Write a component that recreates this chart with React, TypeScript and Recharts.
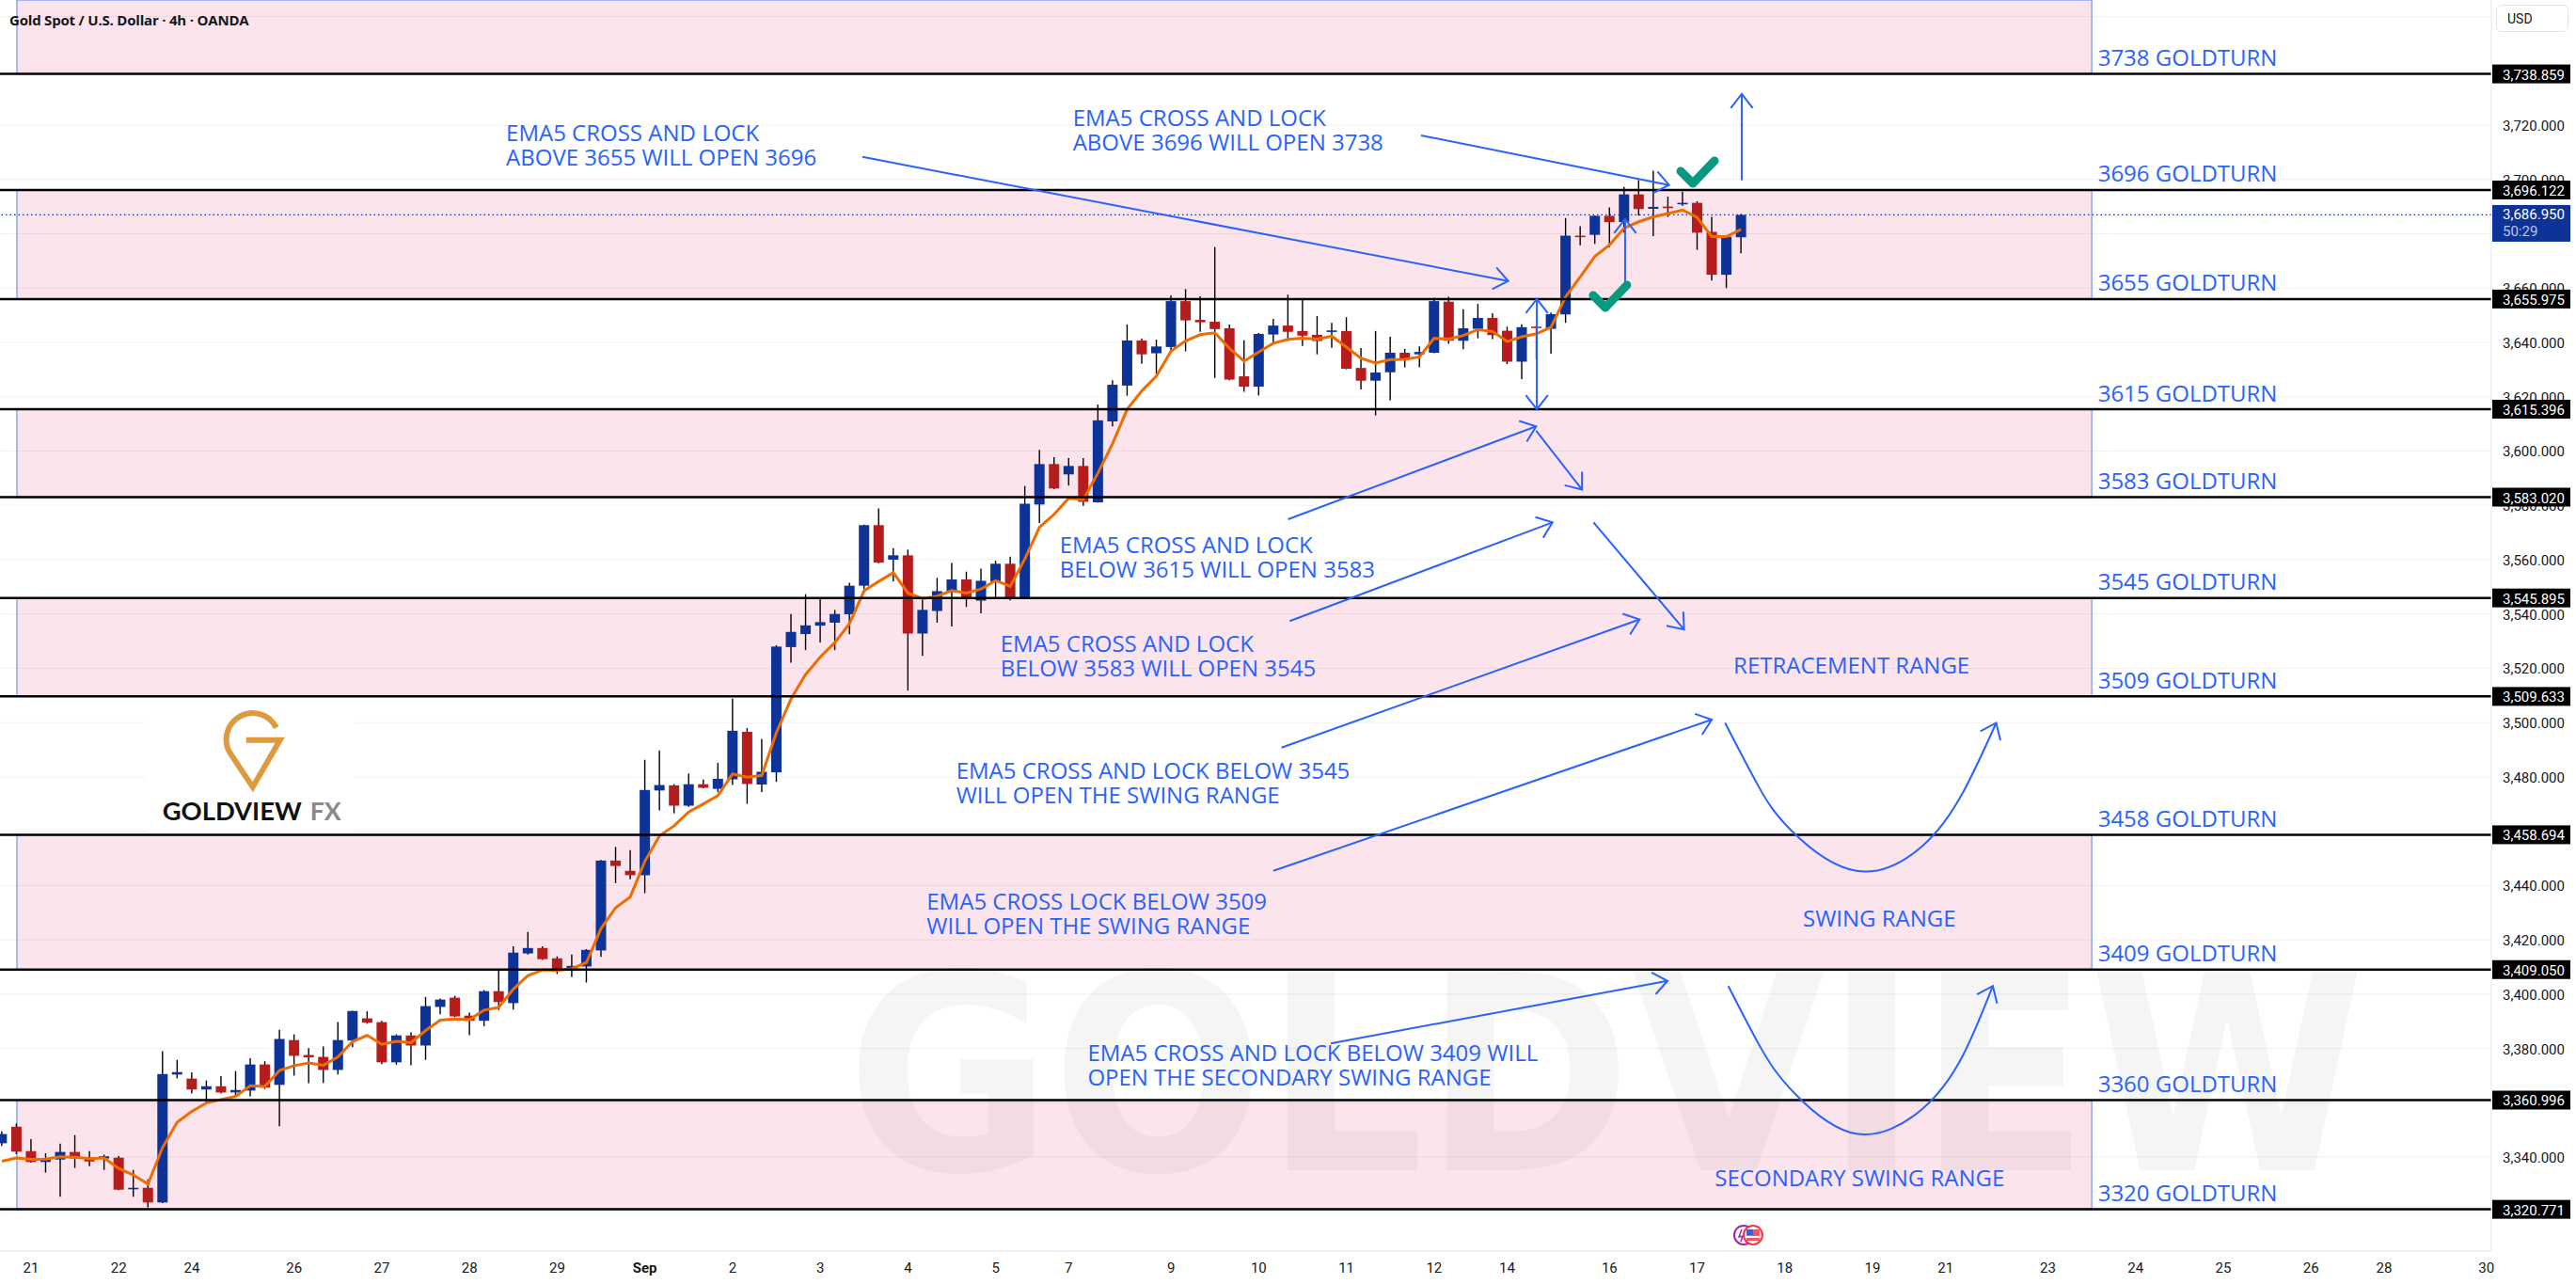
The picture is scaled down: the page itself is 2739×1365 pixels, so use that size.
import React from 'react';
import {
  ComposedChart,
  XAxis,
  YAxis,
  Bar,
  Line,
  ReferenceLine,
  ReferenceArea,
  ReferenceDot,
} from 'recharts';

// ---------- 4h XAUUSD candles (consecutive bar index, first bar = firstBar) ----------
const firstBar = -2;
const opens = [
  3345.1, 3351.2, 3342.2, 3338.2, 3339.1, 3341.9, 3339.9, 3339.5, 3339.8, 3328.2,
  3328.7, 3323.3, 3370.4, 3368.9, 3364.9, 3366.1, 3363.8, 3364.5, 3374.1, 3366.6,
  3383.1, 3377.6, 3376.9, 3372.1, 3382.9, 3391.1, 3389.7, 3374.9, 3384.8, 3381.1,
  3395.3, 3398.7, 3392.1, 3390.2, 3401.1, 3396.7, 3415.0, 3417.0, 3413.2, 3408.6,
  3410.2, 3416.1, 3449.2, 3445.4, 3443.8, 3475.0, 3476.9, 3469.4, 3477.3, 3475.6,
  3479.1, 3496.6, 3477.2, 3481.7, 3527.8, 3532.6, 3535.7, 3536.8, 3539.9, 3550.4,
  3572.7, 3560.0, 3561.6, 3532.8, 3541.1, 3548.1, 3552.7, 3544.9, 3551.9, 3558.5,
  3545.8, 3580.3, 3595.2, 3591.4, 3594.5, 3581.1, 3610.9, 3624.1, 3640.7, 3636.0,
  3638.3, 3655.2, 3648.3, 3647.6, 3645.2, 3627.5, 3623.7, 3642.9, 3646.2, 3644.2,
  3642.8, 3643.9, 3644.2, 3630.6, 3625.9, 3629.0, 3636.2, 3635.6, 3636.2, 3655.0,
  3640.6, 3645.0, 3649.0, 3644.3, 3632.9, 3645.8, 3645.0, 3650.3, 3679.3, 3679.6,
  3686.6, 3684.3, 3694.5, 3689.2, 3690.0, 3691.2, 3691.4, 3680.7, 3664.9, 3678.7,
];
const highs = [
  3349.5, 3352.4, 3346.6, 3341.4, 3345.0, 3348.1, 3342.2, 3340.9, 3340.4, 3335.3,
  3331.8, 3379.0, 3375.8, 3371.2, 3368.2, 3369.8, 3371.7, 3376.4, 3375.3, 3386.9,
  3385.2, 3380.1, 3380.7, 3389.7, 3393.9, 3393.7, 3390.2, 3385.2, 3385.9, 3399.0,
  3398.4, 3399.4, 3393.2, 3401.5, 3409.0, 3417.6, 3422.9, 3417.6, 3413.9, 3414.6,
  3416.6, 3449.4, 3454.2, 3453.0, 3486.3, 3489.8, 3477.3, 3481.3, 3479.0, 3485.2,
  3508.8, 3498.0, 3494.0, 3528.5, 3540.0, 3547.3, 3545.8, 3541.5, 3551.5, 3572.9,
  3578.9, 3564.2, 3563.7, 3545.8, 3553.3, 3558.8, 3555.6, 3556.7, 3559.6, 3561.1,
  3587.1, 3600.4, 3597.7, 3597.4, 3597.4, 3617.1, 3626.1, 3646.6, 3641.4, 3641.0,
  3657.3, 3659.6, 3657.0, 3675.1, 3646.6, 3640.8, 3643.5, 3648.7, 3657.6, 3655.6,
  3649.7, 3647.2, 3649.3, 3637.9, 3644.2, 3642.1, 3637.6, 3638.5, 3656.4, 3656.8,
  3652.2, 3654.2, 3650.7, 3645.8, 3646.7, 3646.2, 3651.0, 3685.8, 3682.8, 3686.8,
  3689.7, 3697.2, 3699.8, 3703.2, 3693.7, 3695.5, 3692.0, 3686.2, 3679.5, 3687.3,
];
const lows = [
  3344.1, 3341.1, 3338.0, 3334.3, 3325.4, 3336.0, 3336.7, 3335.3, 3327.8, 3325.4,
  3321.5, 3323.1, 3369.0, 3363.4, 3359.9, 3363.4, 3362.2, 3362.4, 3365.1, 3351.4,
  3370.0, 3367.2, 3367.3, 3370.4, 3380.5, 3389.1, 3374.2, 3374.0, 3373.8, 3375.8,
  3392.6, 3391.5, 3384.9, 3388.2, 3394.2, 3394.3, 3414.6, 3412.6, 3407.4, 3406.3,
  3404.3, 3413.7, 3440.9, 3442.3, 3437.2, 3467.7, 3466.6, 3469.0, 3475.8, 3474.4,
  3477.0, 3470.1, 3474.4, 3478.2, 3522.1, 3526.7, 3529.5, 3526.7, 3532.5, 3549.2,
  3558.7, 3552.0, 3511.8, 3524.6, 3536.8, 3535.4, 3542.6, 3540.2, 3546.2, 3545.0,
  3545.6, 3573.5, 3586.0, 3587.3, 3579.8, 3581.0, 3609.1, 3620.4, 3632.1, 3628.4,
  3636.4, 3636.7, 3643.9, 3626.9, 3626.1, 3621.8, 3620.4, 3640.0, 3640.5, 3638.7,
  3635.6, 3638.0, 3630.1, 3622.7, 3613.1, 3618.6, 3630.8, 3630.8, 3636.0, 3639.5,
  3637.5, 3641.5, 3641.2, 3632.0, 3626.5, 3633.7, 3635.8, 3647.2, 3675.8, 3676.3,
  3675.1, 3680.4, 3686.7, 3679.1, 3686.2, 3690.3, 3674.1, 3662.8, 3660.0, 3672.8,
];
const closes = [
  3348.5, 3342.0, 3338.2, 3339.5, 3341.9, 3339.5, 3338.4, 3340.3, 3328.0, 3328.7,
  3323.3, 3370.6, 3371.3, 3364.9, 3366.1, 3363.8, 3364.7, 3374.1, 3365.6, 3383.5,
  3377.3, 3376.7, 3372.1, 3383.1, 3393.8, 3389.5, 3374.9, 3384.8, 3381.1, 3395.6,
  3398.0, 3391.8, 3390.2, 3401.1, 3397.1, 3415.3, 3417.0, 3412.9, 3408.6, 3410.4,
  3416.3, 3449.2, 3447.2, 3443.8, 3475.2, 3477.0, 3469.4, 3477.3, 3476.0, 3479.3,
  3497.0, 3477.4, 3481.9, 3528.0, 3533.4, 3535.8, 3537.0, 3540.0, 3550.4, 3572.7,
  3558.9, 3561.6, 3532.8, 3541.5, 3548.4, 3552.7, 3545.8, 3552.2, 3558.5, 3545.8,
  3580.6, 3595.2, 3586.2, 3594.5, 3581.3, 3611.3, 3624.4, 3640.7, 3635.6, 3638.5,
  3655.2, 3648.1, 3647.4, 3644.9, 3626.3, 3623.7, 3643.1, 3646.2, 3643.9, 3642.5,
  3640.5, 3644.4, 3630.3, 3625.9, 3628.9, 3636.2, 3633.9, 3636.5, 3655.2, 3640.6,
  3645.2, 3649.0, 3642.7, 3632.9, 3645.6, 3645.4, 3650.4, 3679.3, 3678.8, 3686.6,
  3684.3, 3694.5, 3689.1, 3689.9, 3689.8, 3691.4, 3680.4, 3664.9, 3678.9, 3686.95,
];

// EMA(5) of the close, starting from the value already running on the first bar
const emaPeriod = 5;
const emaStart = 3338.5;

// ---------- GOLDTURN levels and zones ----------
const levelPrices = [
  3738.859, 3696.122, 3655.975, 3615.396, 3583.02, 3545.895,
  3509.633, 3458.694, 3409.05, 3360.996, 3320.771,
];
const levelTags = [
  '3738 GOLDTURN', '3696 GOLDTURN', '3655 GOLDTURN', '3615 GOLDTURN', '3583 GOLDTURN', '3545 GOLDTURN',
  '3509 GOLDTURN', '3458 GOLDTURN', '3409 GOLDTURN', '3360 GOLDTURN', '3320 GOLDTURN',
];
const zoneLows = [3738.859, 3655.975, 3583.02, 3509.633, 3409.05, 3320.771];
const zoneHighs = [3766.08, 3696.122, 3615.396, 3545.895, 3458.694, 3360.996];

// ---------- axes ----------
const dayTickBars = [0, 6, 11, 18, 24, 30, 36, 42, 48, 54, 60, 66, 71, 78, 84, 90, 96, 101, 108, 114, 120, 126, 131, 138, 144, 150, 156, 161, 168];
const dayTickLabels = ['21', '22', '24', '26', '27', '28', '29', 'Sep', '2', '3', '4', '5', '7', '9', '10', '11', '12', '14', '16', '17', '18', '19', '21', '23', '24', '25', '26', '28', '30'];
const priceTicks = [3340, 3360, 3380, 3400, 3420, 3440, 3460, 3480, 3500, 3520, 3540, 3560, 3580, 3600, 3620, 3640, 3660, 3680, 3700, 3720];
const gridPrices = [3320, 3340, 3360, 3380, 3400, 3420, 3440, 3460, 3480, 3500, 3520, 3540, 3560, 3580, 3600, 3620, 3640, 3660, 3680, 3700, 3720, 3740, 3760];
const lastPrice = 3686.95;
const countdown = '50:29';

// ---------- drawings (bar index, price) ----------
type Seg = { a: [number, number]; b: [number, number]; mode: 'end' | 'both' | 'head' };
const arrowSegs: Seg[] = [
  { a: [56.89, 3708.3], b: [101.07, 3662.6], mode: 'end' },
  { a: [95.11, 3716.2], b: [112.08, 3697.95], mode: 'end' },
  { a: [103.03, 3656.0], b: [103.03, 3615.4], mode: 'both' },
  { a: [109.07, 3662.2], b: [109.07, 3685.4], mode: 'end' },
  { a: [117.05, 3699.7], b: [117.05, 3731.5], mode: 'end' },
  { a: [86.01, 3574.9], b: [102.98, 3609.1], mode: 'end' },
  { a: [102.98, 3607.5], b: [106.12, 3585.8], mode: 'end' },
  { a: [86.12, 3537.4], b: [104.1, 3573.7], mode: 'end' },
  { a: [106.91, 3573.7], b: [113.1, 3534.3], mode: 'end' },
  { a: [85.56, 3490.8], b: [110.06, 3537.98], mode: 'end' },
  { a: [85.0, 3445.4], b: [115.0, 3501.1], mode: 'end' },
  { a: [88.93, 3381.9], b: [111.97, 3404.9], mode: 'end' },
  { a: [133.44, 3487.75], b: [134.46, 3499.9], mode: 'head' },
  { a: [133.22, 3390.9], b: [134.23, 3403.0], mode: 'head' },
];
const swingCurve = [
  { k: 115.91, v: 3499.9 }, { k: 118.16, v: 3476.9 }, { k: 120.4, v: 3460.5 }, { k: 124.9, v: 3445.4 },
  { k: 129.4, v: 3454.5 }, { k: 132.2, v: 3474.4 }, { k: 134.46, v: 3499.9 },
];
const secondaryCurve = [
  { k: 116.13, v: 3403.0 }, { k: 118.38, v: 3380.0 }, { k: 120.63, v: 3363.7 }, { k: 124.9, v: 3348.6 },
  { k: 129.4, v: 3357.7 }, { k: 132.2, v: 3377.6 }, { k: 134.23, v: 3403.0 },
];
type Note = { at: [number, number]; lines: string[]; align: 'start' | 'middle' };
const notes: Note[] = [
  { at: [32.5, 3717.7], lines: ['EMA5 CROSS AND LOCK', 'ABOVE 3655 WILL OPEN 3696'], align: 'start' },
  { at: [71.28, 3723.1], lines: ['EMA5 CROSS AND LOCK', 'ABOVE 3696 WILL OPEN 3738'], align: 'start' },
  { at: [70.38, 3565.8], lines: ['EMA5 CROSS AND LOCK', 'BELOW 3615 WILL OPEN 3583'], align: 'start' },
  { at: [66.33, 3529.5], lines: ['EMA5 CROSS AND LOCK', 'BELOW 3583 WILL OPEN 3545'], align: 'start' },
  { at: [63.3, 3482.9], lines: ['EMA5 CROSS AND LOCK BELOW 3545', 'WILL OPEN THE SWING RANGE'], align: 'start' },
  { at: [61.28, 3434.5], lines: ['EMA5 CROSS LOCK BELOW 3509', 'WILL OPEN THE SWING RANGE'], align: 'start' },
  { at: [72.29, 3378.8], lines: ['EMA5 CROSS AND LOCK BELOW 3409 WILL', 'OPEN THE SECONDARY SWING RANGE'], align: 'start' },
  { at: [124.56, 3521.6], lines: ['RETRACEMENT RANGE'], align: 'middle' },
  { at: [126.47, 3428.5], lines: ['SWING RANGE'], align: 'middle' },
  { at: [125.12, 3332.9], lines: ['SECONDARY SWING RANGE'], align: 'middle' },
];
const checkMarks: [number, number][] = [
  [114.03, 3702.7],
  [108.04, 3656.97],
];

// ---------- look ----------
const W = 2739;
const H = 1365;
const X_DOMAIN: [number, number] = [-2.1236, 168.34];
const Y_DOMAIN: [number, number] = [3305.4, 3766.08];
const ZONE_X: [number, number] = [-0.965, 141.0];
const TAG_X = 141.42;
const BODY_W = 11;
const UP = '#0d3399';
const DOWN = '#b71c1c';
const NOTE_BLUE = '#2962ff';
const EMA_COLOR = '#ef6c00';
const AXIS_FONT = "Roboto, 'Noto Sans', sans-serif";
const NOTE_FONT = "'Open Sans', 'Noto Sans', sans-serif";

const fmt = (p: number) =>
  p.toLocaleString('en-US', { minimumFractionDigits: 3, maximumFractionDigits: 3 });

const emaValues: number[] = [];
closes.forEach((c, i) => {
  if (i === 0) emaValues.push(emaStart);
  else emaValues.push(emaValues[i - 1] + (c - emaValues[i - 1]) * (2 / (emaPeriod + 1)));
});

const bars = opens.map((o, i) => ({
  k: firstBar + i,
  o,
  h: highs[i],
  l: lows[i],
  c: closes[i],
  ema: emaValues[i],
}));

// wick spans the ranged bar (low..high); body is placed inside it from open/close
const Candle = (props: any) => {
  const { x, y, width, height, payload } = props;
  if (!payload || x == null) return null;
  const { o, h, l, c } = payload;
  const top = Math.min(y, y + height);
  const span = Math.abs(height);
  const ppu = span / (h - l || 1);
  const cx = x + width / 2;
  const bTop = top + (h - Math.max(o, c)) * ppu;
  const bBot = top + (h - Math.min(o, c)) * ppu;
  return (
    <g>
      <line x1={cx} x2={cx} y1={top} y2={top + span} stroke="#000" strokeWidth={1.4} />
      <rect
        x={cx - BODY_W / 2}
        y={bTop}
        width={BODY_W}
        height={Math.max(bBot - bTop, 1.6)}
        fill={c >= o ? UP : DOWN}
      />
    </g>
  );
};

const HEAD = 19;
const HEAD_ANGLE = (38 * Math.PI) / 180;
const headPath = (tx: number, ty: number, fx: number, fy: number) => {
  const a = Math.atan2(ty - fy, tx - fx);
  const ax = tx - HEAD * Math.cos(a - HEAD_ANGLE);
  const ay = ty - HEAD * Math.sin(a - HEAD_ANGLE);
  const bx = tx - HEAD * Math.cos(a + HEAD_ANGLE);
  const by = ty - HEAD * Math.sin(a + HEAD_ANGLE);
  return `M${ax},${ay} L${tx},${ty} L${bx},${by}`;
};
const arrowShape = (mode: Seg['mode']) => (p: any) => (
  <g fill="none" stroke={NOTE_BLUE} strokeWidth={2}>
    {mode !== 'head' && <line x1={p.x1} y1={p.y1} x2={p.x2} y2={p.y2} />}
    <path d={headPath(p.x2, p.y2, p.x1, p.y1)} />
    {mode === 'both' && <path d={headPath(p.x1, p.y1, p.x2, p.y2)} />}
  </g>
);

const noteShape = (n: Note) => (p: any) => (
  <text
    x={p.cx}
    y={p.cy}
    fill={NOTE_BLUE}
    fontSize={24}
    fontWeight={500}
    fontFamily={NOTE_FONT}
    textAnchor={n.align}
    dominantBaseline="central"
  >
    {n.lines.map((t, i) => (
      <tspan key={i} x={p.cx} dy={i === 0 ? 0 : 26}>
        {t}
      </tspan>
    ))}
  </text>
);

const tagShape = (label: string) => (p: any) => (
  <text
    x={p.cx}
    y={p.cy - 18}
    fill={NOTE_BLUE}
    fontSize={24}
    fontWeight={500}
    fontFamily={NOTE_FONT}
    dominantBaseline="central"
  >
    {label}
  </text>
);

const priceBox = (price: number) => (p: any) => (
  <g>
    <rect x={p.cx + 1} y={p.cy - 10} width={83} height={20} fill="#000" />
    <text x={p.cx + 12} y={p.cy + 1} fill="#fff" fontSize={15} fontFamily={AXIS_FONT} dominantBaseline="central">
      {fmt(price)}
    </text>
  </g>
);

const lastPriceBox = (p: any) => (
  <g>
    <rect x={p.cx + 1} y={p.cy - 10.5} width={83} height={39} fill={UP} />
    <text x={p.cx + 12} y={p.cy} fill="#fff" fontSize={15} fontFamily={AXIS_FONT} dominantBaseline="central">
      {fmt(lastPrice)}
    </text>
    <text x={p.cx + 12} y={p.cy + 18} fill="#b8c4ee" fontSize={15} fontFamily={AXIS_FONT} dominantBaseline="central">
      {countdown}
    </text>
  </g>
);

const checkShape = (p: any) => (
  <path
    d={`M${p.cx - 18},${p.cy - 1} L${p.cx - 5},${p.cy + 12} L${p.cx + 18},${p.cy - 12}`}
    fill="none"
    stroke="#089981"
    strokeWidth={9}
    strokeLinecap="round"
    strokeLinejoin="round"
  />
);

const watermarkShape = (p: any) => (
  <text
    x={p.cx}
    y={p.cy}
    textAnchor="middle"
    fontSize={290}
    fontWeight={700}
    fontFamily="'DejaVu Sans', sans-serif"
    fill="#000"
    fillOpacity={0.04}
    textLength={1615}
    lengthAdjust="spacingAndGlyphs"
  >
    GOLDVIEW
  </text>
);

const logoShape = (p: any) => {
  const { cx, cy } = p;
  return (
    <g>
      <rect x={cx - 114} y={cy - 45} width={223} height={144} fill="#fff" />
      <path
        d={`M${cx + 25},${cy - 13} A28 28 0 1 0 ${cx - 24},${cy + 14} L${cx},${cy + 50} L${cx + 29},${cy} L${cx - 7},${cy}`}
        fill="none"
        stroke="#de9a3e"
        strokeWidth={6}
        strokeLinejoin="miter"
      />
      <text x={cx - 96} y={cy + 85} fontSize={27} fontWeight={700} fontFamily="Lato, 'Open Sans', sans-serif" fill="#111" textLength={148} lengthAdjust="spacingAndGlyphs">
        GOLDVIEW
      </text>
      <text x={cx + 61} y={cy + 85} fontSize={27} fontWeight={700} fontFamily="Lato, 'Open Sans', sans-serif" fill="#8a8a8a" textLength={33} lengthAdjust="spacingAndGlyphs">
        FX
      </text>
    </g>
  );
};

const eventShape = (p: any) => {
  const { cx, cy } = p;
  return (
    <g>
      <circle cx={cx - 5} cy={cy} r={10} fill="#fff" stroke="#9c27b0" strokeWidth={2} />
      <path d={`M${cx - 7},${cy - 6} L${cx - 10},${cy + 2} L${cx - 6},${cy + 1} L${cx - 8},${cy + 7}`} fill="none" stroke="#9c27b0" strokeWidth={1.5} />
      <circle cx={cx + 5} cy={cy} r={10} fill="#fff" stroke="#f23645" strokeWidth={2} />
      <rect x={cx - 2} y={cy - 6} width={14} height={12} fill="#f23645" opacity={0.85} />
      <rect x={cx - 2} y={cy - 6} width={7} height={6} fill="#2962ff" />
      <rect x={cx - 2} y={cy + 1} width={14} height={2} fill="#fff" />
    </g>
  );
};

const DayTick = (props: any) => {
  const { x, y, payload } = props;
  const idx = dayTickBars.indexOf(payload.value);
  const label = idx >= 0 ? dayTickLabels[idx] : '';
  return (
    <text
      x={x}
      y={y + 10}
      textAnchor="middle"
      dominantBaseline="central"
      fontSize={15}
      fontFamily={AXIS_FONT}
      fontWeight={label === 'Sep' ? 700 : 400}
      fill="#131722"
    >
      {label}
    </text>
  );
};

const PriceTick = (props: any) => {
  const { x, y, payload } = props;
  return (
    <text x={x + 4} y={y + 1} dominantBaseline="central" fontSize={15} fontFamily={AXIS_FONT} fill="#131722">
      {fmt(payload.value)}
    </text>
  );
};

export default function App() {
  return (
    <div style={{ position: 'absolute', left: 0, top: 0, width: W, height: H, background: '#fff', overflow: 'hidden' }}>
      <ComposedChart width={W} height={H} data={bars} margin={{ top: 0, right: 0, bottom: 0, left: 0 }}>
        <XAxis
          dataKey="k"
          type="number"
          domain={X_DOMAIN}
          allowDataOverflow
          ticks={dayTickBars}
          interval={0}
          tick={<DayTick />}
          tickLine={false}
          axisLine={{ stroke: '#e0e3eb' }}
          height={35}
        />
        <YAxis
          orientation="right"
          type="number"
          domain={Y_DOMAIN}
          allowDataOverflow
          ticks={priceTicks}
          interval={0}
          tick={<PriceTick />}
          tickLine={false}
          axisLine={{ stroke: '#e0e3eb' }}
          width={90}
        />

        {zoneLows.map((lo, i) => (
          <ReferenceArea
            key={`zone-${i}`}
            x1={ZONE_X[0]}
            x2={ZONE_X[1]}
            y1={lo}
            y2={zoneHighs[i]}
            fill="#fce4ec"
            fillOpacity={1}
            stroke="#8aa8f8"
            strokeWidth={1.5}
            ifOverflow="hidden"
            zIndex={50}
          />
        ))}

        <ReferenceDot x={107.75} y={3335.19} ifOverflow="visible" shape={watermarkShape} zIndex={60} />

        {gridPrices.map((g) => (
          <ReferenceLine key={`grid-${g}`} y={g} stroke="#000" strokeOpacity={0.06} strokeWidth={1} ifOverflow="hidden" zIndex={70} />
        ))}

        <ReferenceDot x={15.17} y={3493.59} ifOverflow="visible" shape={logoShape} zIndex={80} />

        <ReferenceLine y={lastPrice} stroke={UP} strokeDasharray="1.5 3" strokeWidth={1.3} zIndex={90} />

        <Bar
          dataKey={(d: any) => [d.l, d.h]}
          barSize={BODY_W}
          shape={Candle}
          isAnimationActive={false}
          zIndex={300}
        />
        <Line
          dataKey="ema"
          type="linear"
          stroke={EMA_COLOR}
          strokeWidth={3}
          dot={false}
          activeDot={false}
          isAnimationActive={false}
          zIndex={400}
        />

        {levelPrices.map((lv) => (
          <ReferenceLine key={`lv-${lv}`} y={lv} stroke="#000" strokeWidth={2.5} zIndex={450} />
        ))}

        {levelPrices.map((lv, i) => (
          <ReferenceDot key={`tag-${lv}`} x={TAG_X} y={lv} ifOverflow="visible" shape={tagShape(levelTags[i])} zIndex={460} />
        ))}

        <Line data={swingCurve} dataKey="v" type="natural" stroke={NOTE_BLUE} strokeWidth={2} dot={false} activeDot={false} isAnimationActive={false} zIndex={470} />
        <Line data={secondaryCurve} dataKey="v" type="natural" stroke={NOTE_BLUE} strokeWidth={2} dot={false} activeDot={false} isAnimationActive={false} zIndex={470} />

        {arrowSegs.map((s, i) => (
          <ReferenceLine
            key={`arr-${i}`}
            segment={[{ x: s.a[0], y: s.a[1] }, { x: s.b[0], y: s.b[1] }]}
            ifOverflow="visible"
            shape={arrowShape(s.mode)}
            zIndex={470}
          />
        ))}

        {notes.map((n, i) => (
          <ReferenceDot key={`note-${i}`} x={n.at[0]} y={n.at[1]} ifOverflow="visible" shape={noteShape(n)} zIndex={480} />
        ))}

        {checkMarks.map((c, i) => (
          <ReferenceDot key={`chk-${i}`} x={c[0]} y={c[1]} ifOverflow="visible" shape={checkShape} zIndex={480} />
        ))}

        <ReferenceDot x={117.5} y={3311.3} ifOverflow="visible" shape={eventShape} zIndex={480} />

        {levelPrices.map((lv) => (
          <ReferenceDot key={`box-${lv}`} x={X_DOMAIN[1]} y={lv} ifOverflow="visible" shape={priceBox(lv)} zIndex={2100} />
        ))}
        <ReferenceDot x={X_DOMAIN[1]} y={lastPrice} ifOverflow="visible" shape={lastPriceBox} zIndex={2100} />
      </ComposedChart>

      <div
        style={{
          position: 'absolute',
          left: 10,
          top: 11,
          fontFamily: "'Open Sans', 'Noto Sans', sans-serif",
          fontWeight: 700,
          fontSize: 15,
          letterSpacing: -0.2,
          color: '#131722',
          whiteSpace: 'nowrap',
        }}
      >
        Gold Spot / U.S. Dollar · 4h · OANDA
      </div>
      <div
        style={{
          position: 'absolute',
          left: 2654,
          top: 5,
          width: 77,
          height: 29,
          border: '1px solid #e0e3eb',
          borderRadius: 6,
          background: '#fff',
          fontFamily: AXIS_FONT,
          fontSize: 14,
          color: '#131722',
          lineHeight: '29px',
          paddingLeft: 11,
          boxSizing: 'border-box',
        }}
      >
        USD
      </div>
    </div>
  );
}
